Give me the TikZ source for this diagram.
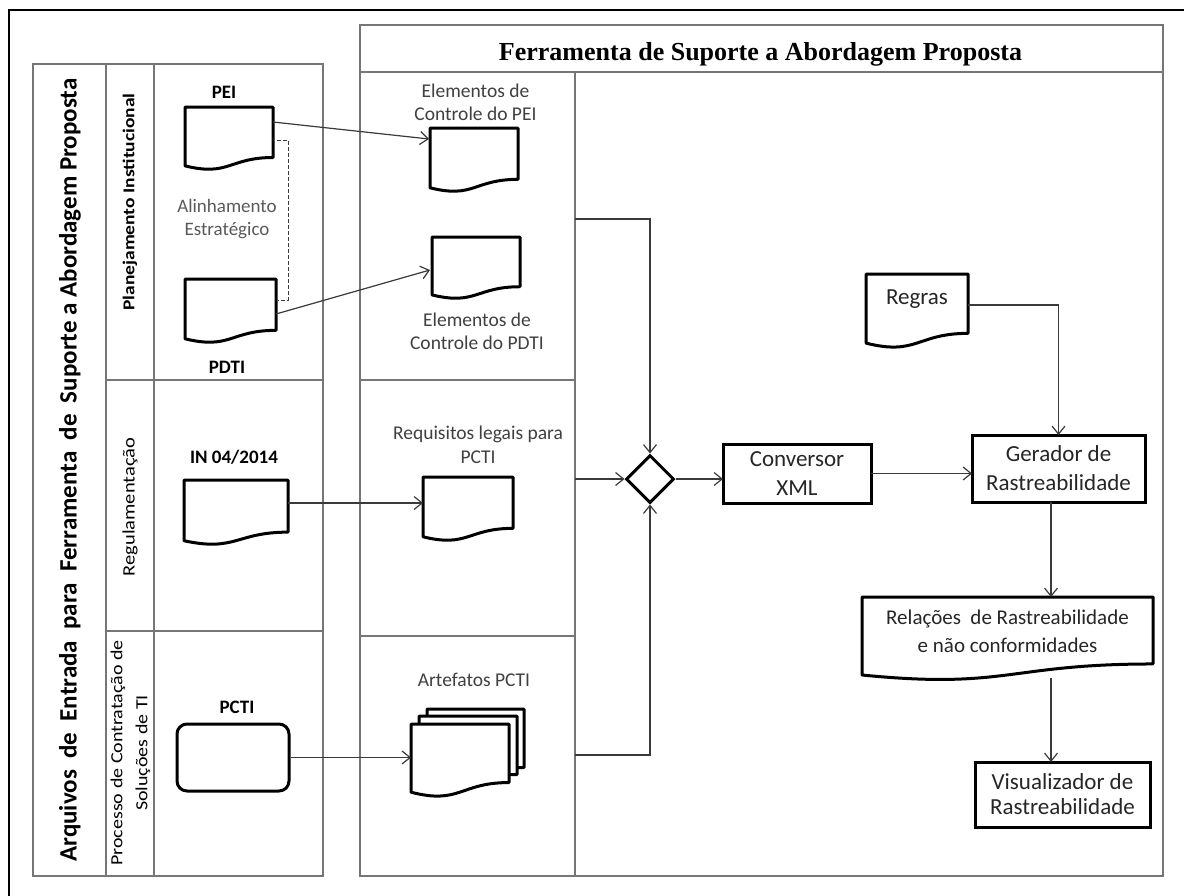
\documentclass[tikz,border=0pt]{standalone}
\usepackage{fontspec}
\usepackage{graphicx}
\setmainfont{Carlito}
\newfontfamily\titleserif{Liberation Serif}
\usetikzlibrary{arrows.meta,calc,shapes.geometric}

\definecolor{poolgray}{HTML}{767676}
\definecolor{conngray}{HTML}{3A3A3A}
\definecolor{captgray}{HTML}{404040}
\definecolor{softgray}{HTML}{5A5A5A}
\definecolor{boxtextc}{HTML}{262626}

% outline of a flowchart "document" symbol drawn on the border of node #2
\newcommand\docoutline[2][]{%
  \path[shapeline,#1] (#2.north west) -- (#2.north east)
    -- ($(#2.north east)!0.802!(#2.south east)$)
    .. controls ($(#2.north)!0.802!(#2.south)$) and ($(#2.north)!1.1075!(#2.south)$)
    .. ($(#2.north west)!0.934!(#2.south west)$) -- cycle;}

\begin{document}
\begin{tikzpicture}[x=1pt,y=-1pt,
  pool/.style={draw=poolgray, line width=1.3pt},
  frameline/.style={draw=black, line width=2pt},
  shapeline/.style={draw=black, line width=3pt, line join=round, fill=white},
  docbox/.style={inner sep=0pt, outer sep=0pt, rectangle},
  procbox/.style={draw=black, line width=3pt, fill=white, inner sep=0pt, outer sep=0pt,
    align=center, text=boxtextc, font=\fontsize{23}{29}\selectfont},
  conn/.style={draw=conngray, line width=1.2pt},
  arr/.style={conn, -{Straight Barb[length=8pt,width=13pt]}},
  dashlink/.style={draw=conngray, line width=1pt, dash pattern=on 4pt off 2pt},
  lbl/.style={inner sep=0pt, text=black, font=\fontsize{19}{23}\selectfont\bfseries},
  capt/.style={inner sep=0pt, align=center, text=captgray, font=\fontsize{19.5}{23.5}\selectfont},
  lanetext/.style={inner sep=0pt, rotate=90, align=center, text=black}
]
\useasboundingbox (0,0) rectangle (1184,895);
\fill[white] (0,0) rectangle (1184,895);

% outer frame, running past the page on the right and at the bottom
\begin{scope}
  \clip (0,0) rectangle (1184,895);
  \draw[frameline] (9,10) rectangle (1250,950);
\end{scope}

% ---- input pool ----
\draw[pool] (33,64) rectangle (323,876);
\draw[pool] (106,64) -- (106,876);
\draw[pool] (154,64) -- (154,876);
\draw[pool] (106,380) -- (323,380);
\draw[pool] (106,631) -- (323,631);

\node[lanetext, font=\fontsize{25}{29}\selectfont\bfseries] (pooltitle) at (70,470)
  {Arquivos\ \ de\ \ Entrada\ \ para\ \ Ferramenta\ \ de\ \ Suporte a Abordagem Proposta};
\node[lanetext, font=\fontsize{19.5}{24}\selectfont\bfseries] (lane1) at (130,202)
  {\scalebox{1}[0.85]{Planejamento Institucional}};
\node[lanetext, font=\fontsize{20.5}{24}\selectfont] (lane2) at (130,507)
  {\scalebox{1}[0.85]{Regulamentação}};
\node[lanetext, font=\fontsize{20}{25}\selectfont] (lane3) at (130.5,753)
  {\scalebox{1}[0.85]{Processo de Contratação de}\\\scalebox{1}[0.85]{Soluções de TI}};

% ---- tool pool ----
\draw[pool] (360,25) rectangle (1163,876);
\draw[pool] (360,72) -- (1163,72);
\draw[pool] (575,72) -- (575,876);
\draw[pool] (360,380) -- (575,380);
\draw[pool] (360,636) -- (575,636);

\node[inner sep=0pt, anchor=base, font=\fontsize{26}{30}\selectfont\titleserif\bfseries] (tooltitle)
  at (760.5,60) {Ferramenta de Suporte a Abordagem Proposta};

% ---- input documents ----
\node[docbox, minimum width=88, minimum height=63] (pei) at (229,138.5) {};
\node[docbox, minimum width=91, minimum height=64] (pdti) at (230.5,311) {};
\node[docbox, minimum width=104, minimum height=65] (inreg) at (236,512.5) {};
\docoutline{pei}
\docoutline{pdti}
\docoutline{inreg}
\node[draw=black, line width=3pt, rounded corners=10pt, fill=white, inner sep=0pt,
  minimum width=112, minimum height=67] (pcti) at (233,757.5) {};

\node[lbl] (pei-l) at (224,92) {PEI};
\node[lbl] (pdti-l) at (227,367) {PDTI};
\node[lbl] (inreg-l) at (234,457) {IN 04/2014};
\node[lbl] (pcti-l) at (237,707) {PCTI};
\node[capt, text=softgray, font=\fontsize{19}{22.5}\selectfont] (align-l) at (227,219)
  {Alinhamento\\Estratégico};

% strategic alignment bracket
\draw[dashlink] ($(pei.north east)+(4,33)$) -- (288,140) -- (288,300)
  -- ($(pdti.north east)+(2,21)$);

% ---- documents held by the tool ----
\node[docbox, minimum width=88, minimum height=64] (elpei) at (474,160) {};
\node[docbox, minimum width=88, minimum height=62] (elpdti) at (476,268) {};
\node[docbox, minimum width=90, minimum height=64] (req) at (468,509) {};
\docoutline{elpei}
\docoutline{elpdti}
\docoutline{req}
\node[docbox, minimum width=97, minimum height=73] (art3) at (475.5,745.5) {};
\node[docbox, minimum width=98, minimum height=73] (art2) at (468,752.5) {};
\node[docbox, minimum width=98, minimum height=73] (art) at (460,760.5) {};
\docoutline{art3}
\docoutline{art2}
\docoutline{art}

\node[capt] (elpei-l) at (475.5,102.5) {Elementos de\\Controle do PEI};
\node[capt] (elpdti-l) at (477,331.5) {Elementos de\\Controle do PDTI};
\node[capt] (req-l) at (478,445) {Requisitos legais para\\PCTI};
\node[capt] (art-l) at (474,680) {Artefatos PCTI};

% inputs feeding the tool
\draw[arr] ($(pei.north east)+(0,15)$) -- ($(elpei.north west)+(-1,11)$);
\draw[arr] ($(pdti.north east)+(0,35)$) -- ($(elpdti.north west)+(-2,33)$);
\coordinate (inlink) at ($(inreg.north east)+(0,23)$);
\draw[arr] (inlink) -- (inlink -| req.west);
\draw[arr] (pcti.east) -- (pcti.east -| art.west);

% ---- processing chain ----
\node[diamond, draw=black, line width=3pt, fill=white, inner sep=0pt,
  minimum width=48, minimum height=48] (dia) at (650,479) {};
\node[procbox, minimum width=148, minimum height=59] (conv) at (797,473.5) {Conversor\\XML};
\node[procbox, minimum width=173, minimum height=67] (gen) at (1058.5,468.5)
  {Gerador de\\Rastreabilidade};
\node[procbox, font=\fontsize{23}{25}\selectfont, minimum width=175, minimum height=65] (vis)
  at (1062.5,794.5) {Visualizador de\\Rastreabilidade};

\node[docbox, minimum width=102, minimum height=74] (regras) at (917,311) {};
\node[docbox, minimum width=291, minimum height=83.5] (rel) at (1007.5,638.75) {};
\docoutline{regras}
\docoutline{rel}
\node[inner sep=0pt, text=boxtextc, font=\fontsize{23}{28}\selectfont] (regras-t)
  at ($(regras.center)+(0,-12)$) {Regras};
\node[inner sep=0pt, align=center, text=boxtextc, font=\fontsize{21}{28}\selectfont] (rel-t)
  at ($(rel.center)+(0,-7.75)$) {Relações\ \ de Rastreabilidade\\e não conformidades};

% merge into the gateway
\coordinate (m1) at (575,219);
\coordinate (m2) at (575,479);
\coordinate (m3) at (575,755);
\draw[arr] (m1) -| (dia.north);
\draw[arr] (m2) -- (dia.west);
\draw[arr] (m3) -| (dia.south);

\draw[arr] (dia.east) -- (dia.east -| conv.west);
\draw[arr] (conv.east) -- (conv.east -| gen.west);
\draw[arr] ($(regras.north east)+(0,31)$) -| (gen.north);
\coordinate (g1) at ($(gen.south)+(-7.5,0)$);
\draw[arr] (g1) -- (g1 |- rel.north);
\coordinate (r1) at (1051,678);
\draw[arr] (r1) -- (r1 |- vis.north);
\end{tikzpicture}
\end{document}
